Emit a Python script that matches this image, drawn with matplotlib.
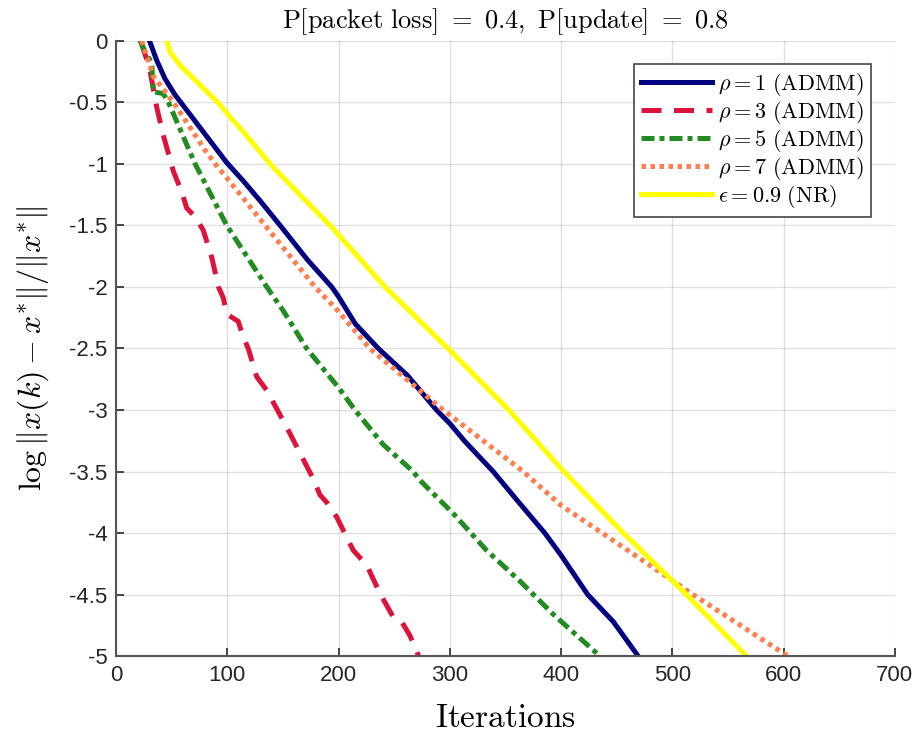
"""Convergence of ADMM (several rho) vs NR under packet loss."""

import matplotlib
matplotlib.use("Agg")
import matplotlib.pyplot as plt

plt.rcParams["mathtext.fontset"] = "cm"
plt.rcParams["axes.unicode_minus"] = False

# curves (iteration, log relative error)
RHO1_X = [30, 36.5, 44, 53, 66.5, 80, 99.4, 114.4, 129.4, 147.4, 172, 193.8, 200, 215, 235.7, 250,
          262, 288, 300, 313, 339, 362, 385.4, 400, 424, 447, 469.3]
RHO1_Y = [0, -0.16, -0.31, -0.44, -0.6, -0.76, -0.99, -1.14, -1.3, -1.5, -1.78, -2.0, -2.08, -2.3, -2.5, -2.62,
          -2.72, -3.0, -3.11, -3.25, -3.5, -3.75, -4.0, -4.18, -4.5, -4.72, -5.0]

RHO3_X = [22, 30, 36.5, 42.5, 51.5, 59, 63.5, 71, 78.4, 86, 92, 96.4, 99.4, 109.8, 114.4, 118.8, 126.4, 135.4,
          153.4, 165.3, 177.3, 183.3, 189.3, 198.3, 213.2, 225.3, 237.2, 249, 256.7, 264, 272]
RHO3_Y = [0, -0.22, -0.54, -0.77, -1.06, -1.23, -1.36, -1.43, -1.54, -1.76, -2.0, -2.09, -2.22, -2.28, -2.41, -2.5,
          -2.73, -2.84, -3.14, -3.35, -3.56, -3.69, -3.75, -3.87, -4.14, -4.26, -4.49, -4.68, -4.72, -4.83, -5.0]

RHO5_X = [21.6, 26, 32, 33.5, 42.4, 47, 71, 99.4, 116, 135.4, 150, 171.3, 201, 214.7, 240, 267, 273, 303,
          333, 363, 393, 435]
RHO5_Y = [0, -0.09, -0.18, -0.415, -0.43, -0.5, -1.0, -1.5, -1.73, -2.0, -2.19, -2.5, -2.83, -3.0, -3.28, -3.5,
          -3.57, -3.84, -4.14, -4.39, -4.66, -5.0]

RHO7_X = [23, 33.5, 51.5, 80, 89, 100, 133.9, 178.8, 200, 228, 294, 366, 400, 437, 500, 518.7, 604]
RHO7_Y = [0, -0.29, -0.5, -0.89, -1.0, -1.12, -1.5, -2.0, -2.2, -2.5, -3.0, -3.5, -3.775, -4.0, -4.385, -4.5, -5.0]

NR_X = [45.5, 48.5, 57.5, 66.5, 75.5, 84.5, 93.4, 102.4, 114.4, 126.4, 138.4, 165, 192.3, 241.7, 300, 353, 400,
        456, 499.3, 512.7, 566.7]
NR_Y = [0, -0.09, -0.2, -0.28, -0.36, -0.44, -0.52, -0.62, -0.74, -0.87, -1.0, -1.25, -1.5, -2.0, -2.515, -3.0,
        -3.476, -4.0, -4.38, -4.5, -5.0]

XTICKS = [0, 100, 200, 300, 400, 500, 600, 700]
YTICKS = [0, -0.5, -1, -1.5, -2, -2.5, -3, -3.5, -4, -4.5, -5]
YTICK_LABELS = ["0", "-0.5", "-1", "-1.5", "-2", "-2.5", "-3", "-3.5", "-4", "-4.5", "-5"]

fig = plt.figure(figsize=(9.14, 7.34), dpi=100)
ax = fig.add_axes([0.127, 0.106, 0.852, 0.8386])

lw = 3.6
ax.plot(RHO1_X, RHO1_Y, "-", color="#000080", lw=lw, label=r"$\rho = 1\ \mathrm{(ADMM)}$")
ax.plot(RHO3_X, RHO3_Y, color="#DC143C", lw=lw, dashes=(4, 2.5), label=r"$\rho = 3\ \mathrm{(ADMM)}$")
ax.plot(RHO5_X, RHO5_Y, color="#228B22", lw=lw, dashes=(2.6, 1.0, 1.0, 1.0), label=r"$\rho = 5\ \mathrm{(ADMM)}$")
ax.plot(RHO7_X, RHO7_Y, color="#FF7F50", lw=lw, dashes=(0.9, 0.9), label=r"$\rho = 7\ \mathrm{(ADMM)}$")
ax.plot(NR_X, NR_Y, "-", color="#FFFF00", lw=lw, label=r"$\epsilon = 0.9\ \mathrm{(NR)}$")

ax.set_xlim(0, 700)
ax.set_ylim(-5, 0)
ax.set_xticks(XTICKS)
ax.set_yticks(YTICKS)
ax.set_yticklabels(YTICK_LABELS)
for lab in ax.get_xticklabels() + ax.get_yticklabels():
    lab.set_fontfamily("Liberation Sans")
    lab.set_fontsize(16)
    lab.set_color("#262626")

ax.grid(True, color="#000000", alpha=0.12, lw=1)
ax.set_axisbelow(True)
for side in ("top", "right"):
    ax.spines[side].set_visible(False)
for side in ("left", "bottom"):
    ax.spines[side].set_color("#555555")
    ax.spines[side].set_linewidth(1.5)
ax.tick_params(direction="in", length=6, width=1.2, color="#262626", pad=6)

ax.set_xlabel(r"$\mathrm{Iterations}$", fontsize=24, labelpad=11)
ax.set_ylabel(r"$\log\|x(k)-x^{*}\|/\|x^{*}\|$", fontsize=23, labelpad=13)
ax.set_title(r"$\mathrm{P[packet\ loss]}\ =\ 0.4,\ \mathrm{P[update]}\ =\ 0.8$",
             fontsize=19, pad=9)

leg = ax.legend(loc="upper right", bbox_to_anchor=(0.969, 0.962), borderaxespad=0,
                fontsize=16, handlelength=3.2, handletextpad=0.3, borderpad=0.3,
                labelspacing=0.05, fancybox=False, framealpha=1)
leg.get_frame().set_edgecolor("#444444")
leg.get_frame().set_linewidth(1.2)

fig.savefig("out.png", dpi=100)
